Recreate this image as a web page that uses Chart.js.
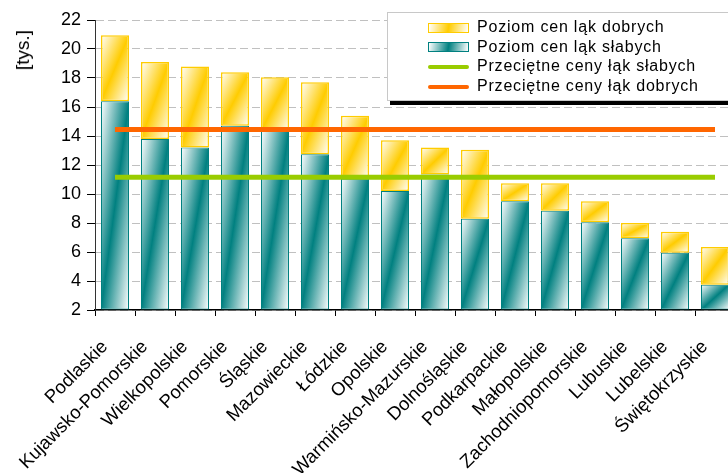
<!DOCTYPE html>
<html>
<head>
<meta charset="utf-8">
<script src="https://cdn.jsdelivr.net/npm/chart.js@4.4.1/dist/chart.umd.min.js"></script>
<style>
  html, body { margin: 0; padding: 0; background: #fff; overflow: hidden; }
  #wrap { position: relative; width: 728px; height: 473px; overflow: hidden; }
  #box { position: absolute; left: 0; top: 0; width: 740px; height: 473px; }
  #ytitle {
    position: absolute; left: 12px; top: 30px; writing-mode: vertical-rl; transform: rotate(180deg);
    font: 19px "Liberation Sans", Arial, sans-serif; color: #000;
  }
  #legend {
    position: absolute; left: 387px; top: 12px; width: 360px; height: 87px;
    border: 1px solid #c8c8c8; background: #fff; box-shadow: 3px 4px 0 #000;
    font: 16px "Liberation Sans", Arial, sans-serif; letter-spacing: 0.8px; color: #000;
  }
  .item { position: absolute; left: 40px; height: 20px; line-height: 20px; white-space: nowrap; }
  .sw { display: inline-block; width: 41px; vertical-align: middle; margin-right: 8px; box-sizing: border-box; }
</style>
</head>
<body>
<div id="wrap">
  <div id="box"><canvas id="chart"></canvas></div>
  <div id="ytitle">[tys.]</div>
  <div id="legend"></div>
</div>
<script>
// data
const regions = ["Podlaskie", "Kujawsko-Pomorskie", "Wielkopolskie", "Pomorskie", "Śląskie",
  "Mazowieckie", "Łódzkie", "Opolskie", "Warmińsko-Mazurskie", "Dolnośląskie", "Podkarpackie",
  "Małopolskie", "Zachodniopomorskie", "Lubuskie", "Lubelskie", "Świętokrzyskie"];
const lakiDobre = [20.95, 19.1, 18.8, 18.4, 18.05, 17.7, 15.4, 13.7, 13.2, 13.05, 10.75, 10.75, 9.5, 8.0, 7.4, 6.35];
const lakiSlabe = [16.4, 13.8, 13.2, 14.7, 14.35, 12.75, 11.05, 10.2, 11.35, 8.3, 9.5, 8.85, 8.05, 6.95, 5.95, 3.75];
const sredniaSlabe = [11.15, 11.15, 11.15, 11.15, 11.15, 11.15, 11.15, 11.15, 11.15, 11.15, 11.15, 11.15, 11.15, 11.15, 11.15, 11.15];
const sredniaDobre = [14.45, 14.45, 14.45, 14.45, 14.45, 14.45, 14.45, 14.45, 14.45, 14.45, 14.45, 14.45, 14.45, 14.45, 14.45, 14.45];
const yMin = 2, yMax = 22, yStep = 2;

const TEAL = "#008080", GOLD = "#FFCC00";
const BAR_PCT = 0.7;

// Excel-like diagonal gradient: stripe along each bar's diagonal
function diagFill(color) {
  return function (ctx) {
    const chart = ctx.chart, area = chart.chartArea;
    if (!area || ctx.type !== "data") return color;
    const xs = chart.scales.x, ys = chart.scales.y;
    const raw = ctx.raw;
    const lo = Array.isArray(raw) ? raw[0] : yMin;
    const hi = Array.isArray(raw) ? raw[1] : raw;
    const top = ys.getPixelForValue(hi), bottom = ys.getPixelForValue(lo);
    const cx = xs.getPixelForValue(ctx.dataIndex);
    const w = (area.right - area.left) / regions.length * BAR_PCT;
    const h = Math.max(1, bottom - top);
    const cy = (top + bottom) / 2;
    const k = (w * h) / (w * w + h * h);
    const g = chart.ctx.createLinearGradient(cx - h * k, cy - w * k, cx + h * k, cy + w * k);
    g.addColorStop(0, "#ffffff");
    g.addColorStop(0.5, color);
    g.addColorStop(1, "#ffffff");
    return g;
  };
}

const chart = new Chart(document.getElementById("chart"), {
  type: "bar",
  data: {
    labels: regions,
    datasets: [
      {
        label: "Poziom cen ląk dobrych",
        data: regions.map((_, i) => [lakiSlabe[i], lakiDobre[i]]),
        backgroundColor: diagFill(GOLD),
        borderColor: GOLD,
        borderWidth: 1.5,
        borderSkipped: false,
        grouped: false,
        barPercentage: BAR_PCT,
        categoryPercentage: 1,
        order: 2,
      },
      {
        label: "Poziom cen ląk słabych",
        data: lakiSlabe,
        base: yMin,
        backgroundColor: diagFill(TEAL),
        borderColor: TEAL,
        borderWidth: 1,
        borderSkipped: false,
        grouped: false,
        barPercentage: BAR_PCT,
        categoryPercentage: 1,
        order: 2,
      },
      {
        type: "line",
        label: "Przeciętne ceny łąk słabych",
        data: sredniaSlabe,
        borderColor: "#99CC00",
        backgroundColor: "#99CC00",
        borderWidth: 5,
        pointRadius: 0,
        order: 1,
      },
      {
        type: "line",
        label: "Przeciętne ceny łąk dobrych",
        data: sredniaDobre,
        borderColor: "#FF6600",
        backgroundColor: "#FF6600",
        borderWidth: 5,
        pointRadius: 0,
        order: 1,
      },
    ],
  },
  options: {
    responsive: true,
    maintainAspectRatio: false,
    animation: false,
    layout: { padding: { top: 20, right: 5, left: 0, bottom: 0 } },
    plugins: { legend: { display: false }, tooltip: { enabled: false } },
    scales: {
      x: {
        grid: { drawOnChartArea: false, tickLength: 6, tickColor: "#000", offset: true },
        border: { color: "#000", width: 1.5 },
        ticks: {
          color: "#000", font: { family: "Liberation Sans", size: 18.5 },
          maxRotation: 45, minRotation: 45, padding: 20, labelOffset: -10, autoSkip: false,
        },
        afterFit: (s) => { s.height = 163; s.paddingLeft = 0; s.paddingRight = 0; },
      },
      y: {
        min: yMin, max: yMax,
        grid: { color: "#c0c0c0", tickColor: "#000", tickLength: 8, tickBorderDash: [] },
        border: { color: "#333", width: 1, dash: [8, 4] },
        ticks: { stepSize: yStep, color: "#000", font: { family: "Liberation Sans", size: 18 }, padding: 6 },
        afterFit: (s) => { s.width = 95; },
      },
    },
  },
});

// HTML legend built from the datasets
const legend = document.getElementById("legend");
chart.data.datasets.forEach((ds, i) => {
  const row = document.createElement("div");
  row.className = "item";
  row.style.top = (4 + i * 19.7) + "px";
  const sw = document.createElement("span");
  sw.className = "sw";
  if (ds.type === "line") {
    sw.style.height = "4px";
    sw.style.background = ds.borderColor;
    sw.style.borderRadius = "2px";
  } else {
    sw.style.height = "10px";
    sw.style.border = "1px solid " + ds.borderColor;
    sw.style.background = "linear-gradient(100deg, #fff 0%, " + ds.borderColor + " 50%, #fff 100%)";
  }
  row.appendChild(sw);
  row.appendChild(document.createTextNode(ds.label));
  legend.appendChild(row);
});
</script>
</body>
</html>
